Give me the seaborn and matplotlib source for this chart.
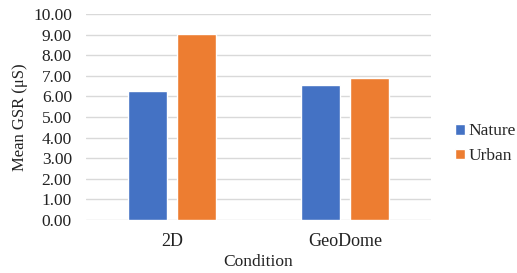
import matplotlib
matplotlib.use('Agg')
import matplotlib.pyplot as plt
import pandas as pd
import seaborn as sns
from matplotlib.ticker import FormatStrFormatter, MultipleLocator

# Datos
conditions = ['2D', 'GeoDome']
nature = [6.26, 6.55]
urban = [9.03, 6.89]
series_names = ['Nature', 'Urban']
colors = ['#4472C4', '#ED7D31']

df = pd.DataFrame({
    'Condition': conditions * 2,
    'Environment': [series_names[0]] * len(conditions) + [series_names[1]] * len(conditions),
    'GSR': nature + urban,
})

sns.set_style('white')
plt.rcParams['font.family'] = ['Liberation Serif', 'DejaVu Serif']

fig = plt.figure(figsize=(5.17, 2.73), dpi=100)
ax = fig.add_axes([0.166, 0.194, 0.668, 0.755])

sns.barplot(data=df, x='Condition', y='GSR', hue='Environment', order=conditions,
            hue_order=series_names, palette=colors, width=0.568, gap=0.215,
            saturation=1, ax=ax, zorder=3)

ax.set_ylim(0, 10)
ax.set_xlim(-0.5, 1.5)
ax.yaxis.set_major_locator(MultipleLocator(1))
ax.yaxis.set_major_formatter(FormatStrFormatter('%.2f'))
ax.grid(axis='y', color='#D9D9D9', linewidth=1, zorder=0)
for s in ax.spines.values():
    s.set_visible(False)
ax.tick_params(axis='y', length=0, labelsize=12.5, colors='#222222', pad=10)
ax.tick_params(axis='x', length=0, labelsize=13, colors='#222222', pad=9)

ax.set_xlabel('Condition', fontsize=12.5, color='#222222', labelpad=3)
ax.set_ylabel('Mean GSR (μS)', fontsize=12, color='#222222', labelpad=4)

ax.legend(loc='center left', bbox_to_anchor=(1.025, 0.37), frameon=False,
          fontsize=12.5, handlelength=0.55, handleheight=0.55, handletextpad=0.2,
          labelspacing=0.5)

plt.savefig('out.png', dpi=100)
